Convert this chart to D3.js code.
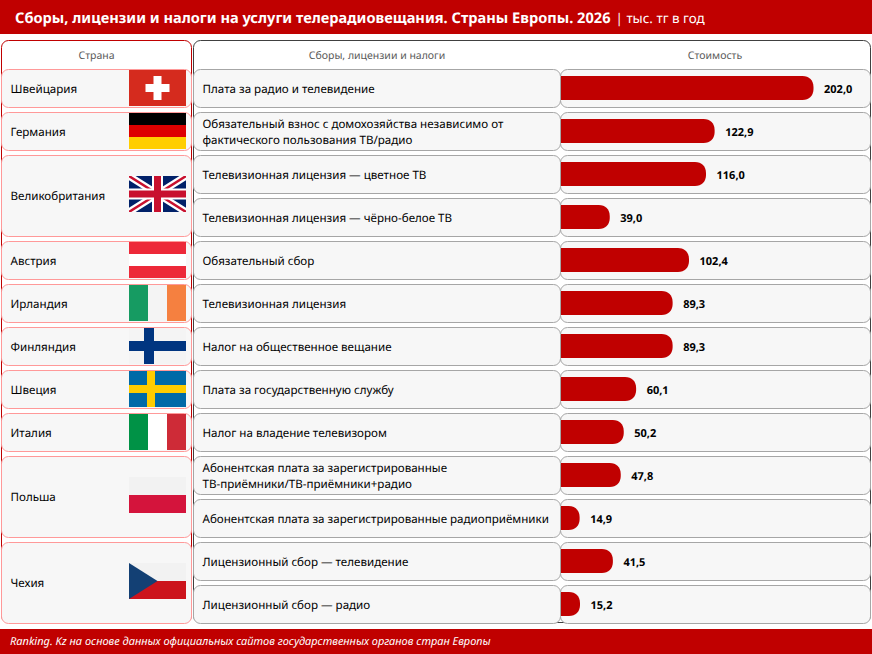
<!DOCTYPE html>
<html lang="ru">
<head>
<meta charset="utf-8">
<script src="https://cdn.jsdelivr.net/npm/d3@7/dist/d3.min.js"></script>
<style>
html,body{margin:0;padding:0;background:#fff}
svg{display:block}
text{font-family:"Noto Sans",sans-serif;text-rendering:geometricPrecision}
</style>
</head>
<body>
<div id="chart"></div>
<script>
// Fees per row, thousand tenge a year
const feeNames = [
  ["Плата за радио и телевидение"],
  ["Обязательный взнос с домохозяйства независимо от", "фактического пользования ТВ/радио"],
  ["Телевизионная лицензия — цветное ТВ"],
  ["Телевизионная лицензия — чёрно-белое ТВ"],
  ["Обязательный сбор"],
  ["Телевизионная лицензия"],
  ["Налог на общественное вещание"],
  ["Плата за государственную службу"],
  ["Налог на владение телевизором"],
  ["Абонентская плата за зарегистрированные", "ТВ-приёмники/ТВ-приёмники+радио"],
  ["Абонентская плата за зарегистрированные радиоприёмники"],
  ["Лицензионный сбор — телевидение"],
  ["Лицензионный сбор — радио"]
];
const feeValues = [202.0, 122.9, 116.0, 39.0, 102.4, 89.3, 89.3, 60.1, 50.2, 47.8, 14.9, 41.5, 15.2];
const countryNames = ["Швейцария", "Германия", "Великобритания", "Австрия", "Ирландия", "Финляндия", "Швеция", "Италия", "Польша", "Чехия"];
const countryRowSpans = [1, 1, 2, 1, 1, 1, 1, 1, 2, 2];
const flagKinds = ["ch", "de", "gb", "at", "ie", "fi", "se", "it", "pl", "cz"];

const titleMain = "Сборы, лицензии и налоги на услуги телерадиовещания. Страны Европы. 2026";
const titleUnit = "| тыс. тг в год";
const sourceNote = "Ranking. Kz на основе данных официальных сайтов государственных органов стран Европы";
const headers = ["Страна", "Сборы, лицензии и налоги", "Стоимость"];

const W = 872, H = 654, RED = "#c00000";
const svg = d3.select("#chart").append("svg").attr("width", W).attr("height", H).attr("viewBox", `0 0 ${W} ${H}`);

const rowY = d3.scaleLinear().domain([0, 1]).range([69, 112]);
const ROW_H = 38;
const barX = d3.scaleLinear().domain([0, 202]).range([561, 813.5]);
const fmt = v => d3.format(".1f")(v).replace(".", ",");

// Bands at the top and bottom
svg.append("rect").attr("width", W).attr("height", 34).attr("fill", RED);
svg.append("rect").attr("y", 629).attr("width", W).attr("height", 25).attr("fill", RED);

const title = svg.append("text").attr("x", 15).attr("y", 23).attr("fill", "#fff").attr("font-size", 14.6);
title.append("tspan").attr("font-weight", 700).text(titleMain);
title.append("tspan").attr("dx", 5).attr("font-size", 13.4).text(titleUnit);

svg.append("text").attr("x", 10).attr("y", 645).attr("fill", "#fff").attr("font-size", 11)
  .attr("font-style", "italic").text(sourceNote);

// Outer panels
svg.append("rect").attr("x", 1.5).attr("y", 40.5).attr("width", 190).attr("height", 582).attr("rx", 7)
  .attr("fill", "#fff").attr("stroke", RED);
svg.append("rect").attr("x", 193.5).attr("y", 40.5).attr("width", 677).attr("height", 582).attr("rx", 7)
  .attr("fill", "#fff").attr("stroke", "#404040");

svg.selectAll("text.head").data(headers).join("text").attr("class", "head")
  .attr("x", (d, i) => [96.5, 377, 715][i]).attr("y", 59).attr("text-anchor", "middle")
  .attr("font-size", 10.5).attr("fill", "#595959").text(d => d);

// Country cells; a country spans one or two fee rows
let start = 0;
const countries = countryNames.map((name, i) => {
  const c = { name, kind: flagKinds[i], first: start, span: countryRowSpans[i] };
  start += c.span;
  return c;
});
const cellH = c => rowY(c.first + c.span - 1) + ROW_H - rowY(c.first);
const country = svg.selectAll("g.country").data(countries).join("g").attr("class", "country")
  .attr("transform", c => `translate(1,${rowY(c.first)})`);
country.append("rect").attr("x", 0.5).attr("y", 0.5).attr("width", 190).attr("height", c => cellH(c))
  .attr("rx", 7).attr("fill", "#f7f7f7").attr("stroke", "#ff9999");
country.append("text").attr("x", 9.5).attr("y", c => cellH(c) / 2 + 4.5).attr("font-size", 11.6)
  .attr("fill", "#000").text(c => c.name);

// Flags are drawn inside a 57x36 box
const stripesH = (g, cols) => cols.forEach((c, i) => g.append("rect").attr("y", i * 12).attr("width", 57).attr("height", 12).attr("fill", c));
const stripesV = (g, cols) => cols.forEach((c, i) => g.append("rect").attr("x", i * 19).attr("width", 19).attr("height", 36).attr("fill", c));
const box = (g, x, y, w, h, c) => g.append("rect").attr("x", x).attr("y", y).attr("width", w).attr("height", h).attr("fill", c);
const flags = {
  ch(g) { box(g, 0, 0, 57, 36, "#d52b1e"); box(g, 24.5, 6, 8, 24, "#fff"); box(g, 16.5, 14, 24, 8, "#fff"); },
  de(g) { stripesH(g, ["#000", "#dd0000", "#ffce00"]); },
  at(g) { stripesH(g, ["#ed2939", "#fff", "#ed2939"]); },
  ie(g) { stripesV(g, ["#169b62", "#f4f4f4", "#f58040"]); },
  it(g) { stripesV(g, ["#009246", "#fff", "#ce2b37"]); },
  fi(g) { box(g, 0, 0, 57, 36, "#f4f4f4"); box(g, 15, 0, 10, 36, "#003580"); box(g, 0, 13, 57, 10, "#003580"); },
  se(g) { box(g, 0, 0, 57, 36, "#006aa7"); box(g, 18, 0, 8, 36, "#fecc00"); box(g, 0, 14, 57, 8, "#fecc00"); },
  pl(g) { box(g, 0, 0, 57, 18, "#f2f2f2"); box(g, 0, 18, 57, 18, "#d4143c"); },
  cz(g) {
    box(g, 0, 0, 57, 18, "#f2f2f2"); box(g, 0, 18, 57, 18, "#cc141c");
    g.append("path").attr("d", "M0,0L28.5,18L0,36Z").attr("fill", "#134074");
  },
  gb(g) {
    box(g, 0, 0, 57, 36, "#012169");
    const cross = (w, c) => g.append("path").attr("d", "M0,0L57,36M57,0L0,36").attr("stroke", c).attr("stroke-width", w);
    cross(7, "#fff"); cross(2.4, "#c8102e");
    box(g, 23, 0, 11, 36, "#fff"); box(g, 0, 12.5, 57, 11, "#fff");
    box(g, 25, 0, 7, 36, "#c8102e"); box(g, 0, 14.5, 57, 7, "#c8102e");
  }
};
country.each(function (c) {
  const clipId = "flag-" + c.kind;
  const g = d3.select(this).append("g")
    .attr("transform", `translate(128,${c.span > 1 ? Math.round(cellH(c) / 2 - 19.5) : 1})`)
    .attr("clip-path", `url(#${clipId})`);
  g.append("clipPath").attr("id", clipId).append("rect").attr("width", 57).attr("height", 36);
  flags[c.kind](g);
});

// Fee rows: name cell, bar cell, bar and value
const row = svg.selectAll("g.row").data(feeValues.map((v, i) => ({ v, lines: feeNames[i], i }))).join("g")
  .attr("class", "row").attr("transform", d => `translate(0,${rowY(d.i)})`);
row.append("rect").attr("x", 193.5).attr("y", 0.5).attr("width", 367).attr("height", ROW_H).attr("rx", 7)
  .attr("fill", "#f7f7f7").attr("stroke", "#a6a6a6");
row.append("rect").attr("x", 560.5).attr("y", 0.5).attr("width", 310).attr("height", ROW_H).attr("rx", 7)
  .attr("fill", "#f7f7f7").attr("stroke", "#a6a6a6");
row.selectAll("text.name").data(d => d.lines.map((t, k) => ({ t, k, n: d.lines.length }))).join("text")
  .attr("class", "name").attr("x", 202.5).attr("font-size", 11.6).attr("fill", "#000")
  .attr("y", d => d.n === 1 ? 24 : 16 + d.k * 16).text(d => d.t);
row.append("path").attr("fill", RED).attr("d", d => {
  const x0 = barX(0), x1 = barX(d.v), r = Math.min(11, x1 - x0), top = 7, bot = 31;
  return `M${x0},${top}H${x1 - r}C${x1 - r * 0.4},${top} ${x1},${top + r * 0.4} ${x1},${top + r}V${bot - r}C${x1},${bot - r * 0.4} ${x1 - r * 0.4},${bot} ${x1 - r},${bot}H${x0}Z`;
});
row.append("text").attr("x", d => barX(d.v) + 10.5).attr("y", 23.5).attr("font-size", 11).attr("font-weight", 700)
  .attr("fill", "#000").text(d => fmt(d.v));
</script>
</body>
</html>
